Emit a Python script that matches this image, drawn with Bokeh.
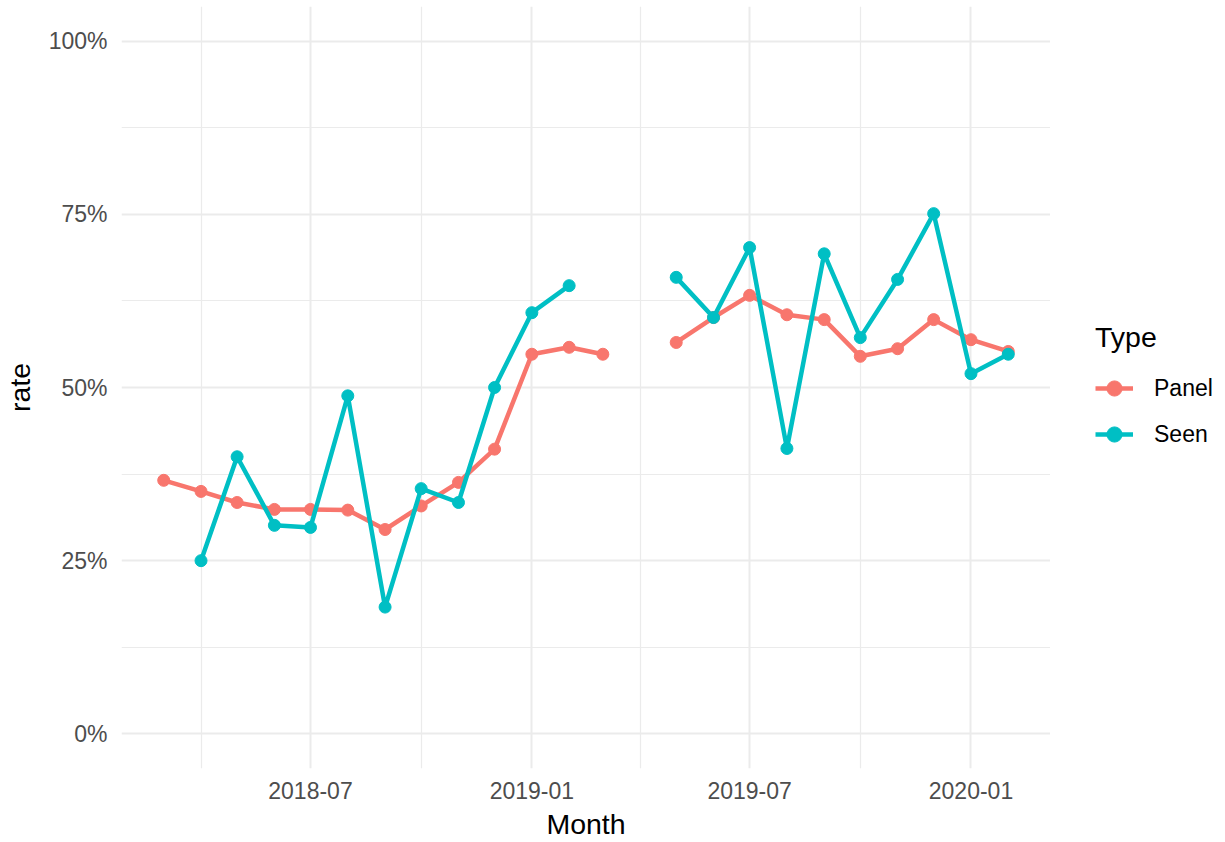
import pandas as pd
import numpy as np
from bokeh.plotting import figure
from bokeh.layouts import row
from bokeh.models import (Range1d, FixedTicker, NumeralTickFormatter, Legend, LegendItem,
                          CustomJSTickFormatter, ColumnDataSource)
from bokeh.embed import file_html
from bokeh.resources import INLINE

months = ["2018-03", "2018-04", "2018-05", "2018-06", "2018-07", "2018-08", "2018-09",
          "2018-10", "2018-11", "2018-12", "2019-01", "2019-02", "2019-03", "2019-04",
          "2019-05", "2019-06", "2019-07", "2019-08", "2019-09", "2019-10", "2019-11",
          "2019-12", "2020-01", "2020-02"]
panel = [0.366, 0.350, 0.334, 0.324, 0.324, 0.323, 0.295, 0.329, 0.363, 0.411, 0.548,
         0.558, 0.548, None, 0.565, 0.601, 0.633, 0.605, 0.598, 0.545, 0.556, 0.598,
         0.569, 0.552]
seen = [None, 0.250, 0.400, 0.301, 0.298, 0.488, 0.183, 0.354, 0.334, 0.500, 0.608,
        0.647, None, None, 0.659, 0.601, 0.702, 0.412, 0.693, 0.572, 0.656, 0.751,
        0.520, 0.548]
series_names = ["Panel", "Seen"]
series_colors = ["#F8766D", "#00BFC4"]
major_x = ["2018-07", "2019-01", "2019-07", "2020-01"]
minor_x = ["2018-04", "2018-10", "2019-04", "2019-10"]
y_major = [0, 0.25, 0.5, 0.75, 1.0]
y_minor = [0.125, 0.375, 0.625, 0.875]

def ms(s):
    return pd.Timestamp(s + "-01").value / 1e6

xs = [ms(m) for m in months]
pv = [np.nan if v is None else v for v in panel]
sv = [np.nan if v is None else v for v in seen]

span = xs[-1] - xs[0]
x0 = xs[0] - 0.05 * span
x1 = xs[-1] + 0.05 * span

p = figure(width=1050, height=842, output_backend="svg", toolbar_location=None,
           x_axis_type="datetime",
           x_range=Range1d(x0, x1), y_range=Range1d(-0.05, 1.05),
           min_border_left=120, min_border_right=0, min_border_top=6,
           min_border_bottom=72)
p.outline_line_color = None
p.background_fill_color = "white"

p.xaxis.ticker = FixedTicker(ticks=[ms(m) for m in major_x], minor_ticks=[ms(m) for m in minor_x])
p.xaxis.formatter = CustomJSTickFormatter(code="""
const d = new Date(tick);
const m = d.getUTCMonth() + 1;
return d.getUTCFullYear() + '-' + (m < 10 ? '0' + m : m);
""")
p.yaxis.ticker = FixedTicker(ticks=y_major, minor_ticks=y_minor)
p.yaxis.formatter = NumeralTickFormatter(format="0%")

for ax in (p.xaxis[0], p.yaxis[0]):
    ax.axis_line_color = None
    ax.major_tick_line_color = None
    ax.minor_tick_line_color = None
    ax.major_tick_out = 0
    ax.major_tick_in = 0
    ax.minor_tick_out = 0
    ax.minor_tick_in = 0
    ax.major_label_text_font = "Liberation Sans"
    ax.major_label_text_font_size = "23px"
    ax.major_label_text_color = "#4D4D4D"
    ax.axis_label_text_font = "Liberation Sans"
    ax.axis_label_text_font_size = "28.5px"
    ax.axis_label_text_font_style = "normal"
    ax.axis_label_text_color = "black"

p.xaxis.axis_label = "Month"
p.yaxis.axis_label = "rate"
p.xaxis.major_label_standoff = 13
p.xaxis.axis_label_standoff = 6
p.yaxis.major_label_standoff = 14
p.yaxis.axis_label_standoff = 10

for g in (p.xgrid[0], p.ygrid[0]):
    g.grid_line_color = "#EBEBEB"
    g.grid_line_width = 2
    g.minor_grid_line_color = "#EBEBEB"
    g.minor_grid_line_width = 1.2

src = ColumnDataSource(dict(x=xs, panel=pv, seen=sv))
cols = ["panel", "seen"]
for c, col in zip(cols, series_colors):
    p.line("x", c, source=src, line_color=col, line_width=4.5)
    p.scatter("x", c, source=src, fill_color=col, line_color=col, size=12)

# legend panel: separate figure to the right, its ranges keep the data out of view
q = figure(width=175, height=842, output_backend="svg", toolbar_location=None,
           x_range=Range1d(0, 1), y_range=Range1d(0, 1),
           x_axis_location=None, y_axis_location=None, min_border=0)
q.outline_line_color = None
q.grid.visible = False
items = []
for name, c, col in zip(series_names, cols, series_colors):
    r1 = q.line("x", c, source=src, line_color=col, line_width=4.5)
    r2 = q.scatter("x", c, source=src, fill_color=col, line_color=col, size=11)
    items.append(LegendItem(label=name, renderers=[r1, r2]))

legend = Legend(items=items, title="Type", location=(45, 314))
legend.border_line_color = None
legend.background_fill_alpha = 0
legend.title_text_font = "Liberation Sans"
legend.title_text_font_size = "28.5px"
legend.title_text_font_style = "normal"
legend.title_text_color = "black"
legend.title_standoff = 14
legend.label_text_font = "Liberation Sans"
legend.label_text_font_size = "23px"
legend.label_text_color = "black"
legend.glyph_width = 38
legend.glyph_height = 40
legend.label_height = 40
legend.spacing = 6
legend.label_standoff = 21
legend.margin = 0
legend.padding = 0
q.add_layout(legend, "center")

layout = row(p, q, spacing=0)
open("out.html", "w").write(file_html(layout, INLINE))
